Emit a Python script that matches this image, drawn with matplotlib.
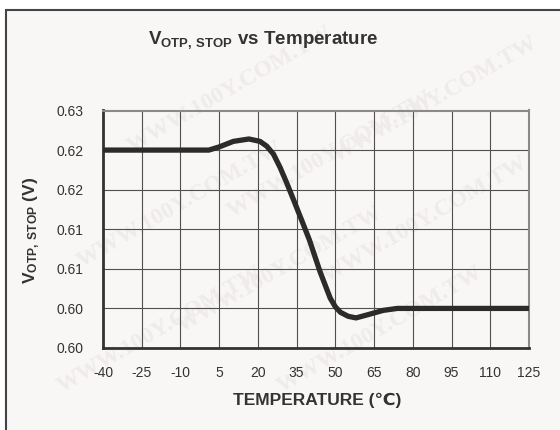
import matplotlib
matplotlib.use("Agg")
import matplotlib.pyplot as plt
from matplotlib.patches import Rectangle

plt.rcParams['font.family'] = ['Liberation Sans', 'DejaVu Sans']
plt.rcParams['mathtext.fontset'] = 'custom'
plt.rcParams['mathtext.rm'] = 'Liberation Sans:bold'
plt.rcParams['mathtext.default'] = 'rm'
plt.rcParams['axes.unicode_minus'] = False

# values
temp_c = [-40, 1, 5, 10.5, 16.5, 20.8, 23.4, 26, 28.6, 31.1, 33.7, 37, 40, 44, 48, 50, 52,
          55, 58, 62.5, 68.5, 74, 125]
v_stop = [0.625, 0.625, 0.6254, 0.6261, 0.6264, 0.6261, 0.6255, 0.6245, 0.6228, 0.6209,
          0.6188, 0.6161, 0.6136, 0.6097, 0.6063, 0.6052, 0.6045, 0.6040, 0.6038, 0.6042,
          0.60475, 0.6050, 0.6050]

x_ticks = [-40, -25, -10, 5, 20, 35, 50, 65, 80, 95, 110, 125]
y_ticks = [0.600, 0.605, 0.610, 0.615, 0.620, 0.625, 0.630]
y_tick_labels = ["0.60", "0.60", "0.61", "0.61", "0.62", "0.62", "0.63"]

fig = plt.figure(figsize=(5.6, 4.3), dpi=100, facecolor='white')

# outer panel frame
fig.patches.append(Rectangle((6 / 560, -0.1), 1.2, (430 - 10) / 430 + 0.1,
                             transform=fig.transFigure, facecolor='#f8f7f5',
                             edgecolor='#444444', linewidth=1.5, zorder=-5))

# faint watermark
for cx, cy in [(230, 90), (330, 155), (425, 220), (180, 205), (280, 270),
               (380, 330), (160, 330), (435, 100)]:
    fig.text(cx / 560, 1 - cy / 430, "WWW.100Y.COM.TW", family='Liberation Serif',
             fontweight='bold', fontsize=17, color='#efebea', rotation=30,
             ha='center', va='center', zorder=-2)

ax = fig.add_axes([103 / 560, 1 - 348 / 430, (529 - 103) / 560, (348 - 110.5) / 430])
ax.set_facecolor('none')

ax.plot(temp_c, v_stop, color='#2b2b2b', linewidth=3.8,
        solid_capstyle='round', solid_joinstyle='round', zorder=3)

ax.set_xlim(-40, 125)
ax.set_ylim(0.600, 0.630)
ax.set_xticks(x_ticks)
ax.set_yticks(y_ticks)
ax.set_yticklabels(y_tick_labels)
ax.grid(True, color='#505050', linewidth=0.8)
ax.tick_params(length=0, labelsize=10, labelcolor='#333333')
ax.tick_params(axis='y', pad=14)
ax.tick_params(axis='x', pad=13)

for side in ['left', 'bottom']:
    ax.spines[side].set_color('#333333')
    ax.spines[side].set_linewidth(2)
for side in ['top', 'right']:
    ax.spines[side].set_color('#8a8a8a')
    ax.spines[side].set_linewidth(1.5)

fig.text(263 / 560, 1 - 40 / 430, r"$\mathrm{V}_{\mathrm{OTP,}\,\mathrm{STOP}}$ vs Temperature",
         fontsize=13.5, fontweight='bold', color='#333333', ha='center', va='center')
fig.text(317 / 560, 1 - 400 / 430, "TEMPERATURE (℃)", fontsize=12.5, fontweight='bold',
         color='#333333', ha='center', va='center', family=['Liberation Sans', 'DejaVu Sans'])
fig.text(32 / 560, 1 - 230 / 430, r"$\mathrm{V}_{\mathrm{OTP,}\,\mathrm{STOP}}$ (V)", fontsize=12.5,
         fontweight='bold', color='#333333', ha='center', va='center', rotation=90)

fig.savefig("out.png", dpi=100, facecolor=fig.get_facecolor())
